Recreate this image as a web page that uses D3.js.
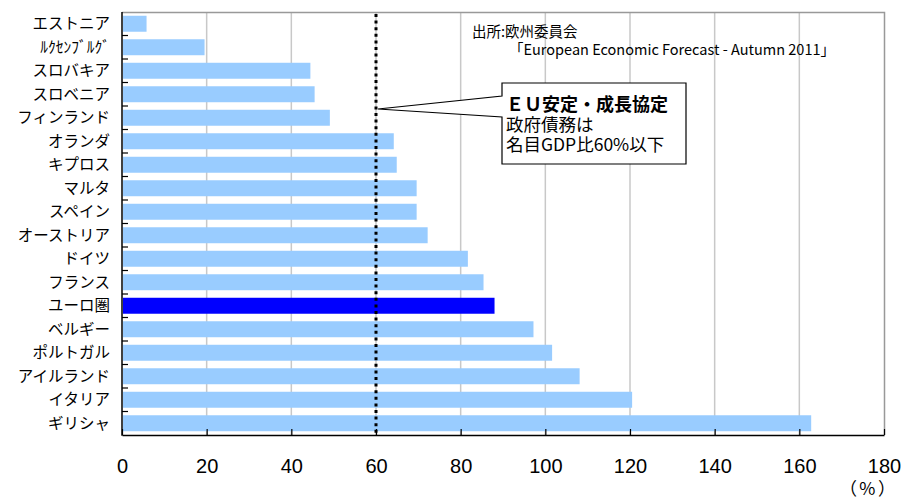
<!DOCTYPE html>
<html>
<head>
<meta charset="utf-8">
<script src="https://cdn.jsdelivr.net/npm/d3@7"></script>
<style>
  html, body { margin: 0; padding: 0; background: #fff; }
  svg { display: block; }
  .cat text { font-family: "Noto Sans CJK JP", sans-serif; font-size: 15.5px; fill: #000; }
  .num text { font-family: "Liberation Sans", Arial, sans-serif; font-size: 20px; fill: #000; }
</style>
</head>
<body>
<svg id="chart" width="905" height="500"></svg>
<script>
// General government gross debt, 2011 (% of GDP)
const countries = ["エストニア", "ﾙｸｾﾝﾌﾞﾙｸﾞ", "スロバキア", "スロベニア", "フィンランド", "オランダ",
  "キプロス", "マルタ", "スペイン", "オーストリア", "ドイツ", "フランス", "ユーロ圏",
  "ベルギー", "ポルトガル", "アイルランド", "イタリア", "ギリシャ"];
const debtRatio = [5.8, 19.5, 44.5, 45.5, 49.1, 64.2, 64.9, 69.6, 69.6, 72.2, 81.7, 85.4, 88.0,
  97.2, 101.6, 108.1, 120.5, 162.8];
const highlighted = ["ユーロ圏"];
const xTicks = [0, 20, 40, 60, 80, 100, 120, 140, 160, 180];
const threshold = 60;
const sourceLines = ["出所:欧州委員会", "「European Economic Forecast - Autumn 2011」"];
const noteLines = ["ＥＵ安定・成長協定", "政府債務は", "名目GDP比60%以下"];
const unitLabel = "（%）";

const svg = d3.select("#chart");
const plotL = 122, plotR = 884, plotT = 12, plotB = 435;

const x = d3.scaleLinear().domain([0, 180]).range([plotL, plotR]);
const y = d3.scaleBand().domain(countries).range([plotT, plotB]).paddingInner(0.32).paddingOuter(0.16);

// vertical gridlines
svg.append("g").selectAll("line").data(xTicks.filter(d => d > 0 && d < 180)).join("line")
  .attr("x1", d => x(d)).attr("x2", d => x(d))
  .attr("y1", plotT).attr("y2", plotB)
  .attr("stroke", "#c8c8c8").attr("stroke-width", 1.5);

// plot frame (top and right)
svg.append("path")
  .attr("d", `M${plotL},${plotT + 0.5}H${plotR + 0.5}V${plotB}`)
  .attr("fill", "none").attr("stroke", "#999").attr("stroke-width", 1.5);

// bars
svg.append("g").selectAll("rect").data(countries).join("rect")
  .attr("x", x(0) + 1)
  .attr("y", d => y(d))
  .attr("width", (d, i) => x(debtRatio[i]) - x(0) - 1)
  .attr("height", y.bandwidth())
  .attr("fill", d => highlighted.includes(d) ? "#0000ff" : "#99ccff");

// 60% reference line
svg.append("line")
  .attr("x1", x(threshold)).attr("x2", x(threshold))
  .attr("y1", plotT + 2).attr("y2", plotB)
  .attr("stroke", "#000").attr("stroke-width", 3).attr("stroke-dasharray", "3,3.6");

// x axis
const xAxis = svg.append("g").attr("class", "num")
  .attr("transform", `translate(0,${plotB})`)
  .call(d3.axisBottom(x).tickValues(xTicks).tickSizeInner(-6).tickSizeOuter(0).tickPadding(24));
xAxis.select(".domain").attr("stroke", "#000").attr("stroke-width", 1.5);
xAxis.selectAll(".tick line").attr("stroke", "#000").attr("stroke-width", 1.2);

// y axis: ticks at band boundaries
const boundaries = d3.range(1, countries.length).map(i => plotT + (plotB - plotT) * i / countries.length);
svg.append("g").selectAll("line").data(boundaries).join("line")
  .attr("x1", plotL).attr("x2", plotL + 6)
  .attr("y1", d => d).attr("y2", d => d)
  .attr("stroke", "#000").attr("stroke-width", 1.2);
svg.append("line")
  .attr("x1", plotL).attr("x2", plotL).attr("y1", plotT).attr("y2", plotB + 0.75)
  .attr("stroke", "#000").attr("stroke-width", 1.5);

const yAxis = svg.append("g").attr("class", "cat")
  .attr("transform", `translate(${plotL},0)`)
  .call(d3.axisLeft(y).tickSize(0).tickPadding(12));
yAxis.select(".domain").remove();
yAxis.selectAll("text").attr("dy", "0.36em");

// unit label
svg.append("text")
  .attr("x", 898).attr("y", 495)
  .attr("text-anchor", "end")
  .attr("font-family", "Noto Sans CJK JP, sans-serif").attr("font-size", 17.5)
  .attr("letter-spacing", 2.5)
  .text(unitLabel);

// source
const src = svg.append("text")
  .attr("font-family", "Noto Sans CJK JP, sans-serif").attr("font-size", 14.5);
src.append("tspan").attr("x", 472).attr("y", 37).text(sourceLines[0]);
src.append("tspan").attr("x", 509).attr("y", 54.5).text(sourceLines[1]);

// callout for the 60% criterion
const bx0 = 502, bx1 = 686, by0 = 83, by1 = 164;
const tipX = x(threshold) + 2, tipY = 109;
svg.append("path")
  .attr("d", `M${bx0},${by0}H${bx1}V${by1}H${bx0}V117L${tipX},${tipY}L${bx0},96Z`)
  .attr("fill", "#fff").attr("stroke", "#000").attr("stroke-width", 1.2);
const note = svg.append("text")
  .attr("font-family", "Noto Sans CJK JP, sans-serif").attr("font-size", 17.5);
const noteY = [111, 131, 151];
noteLines.forEach((t, i) => {
  note.append("tspan")
    .attr("x", 506).attr("y", noteY[i])
    .attr("font-size", i === 0 ? 18 : 17.5)
    .attr("font-weight", i === 0 ? "bold" : "normal")
    .text(t);
});
</script>
</body>
</html>
